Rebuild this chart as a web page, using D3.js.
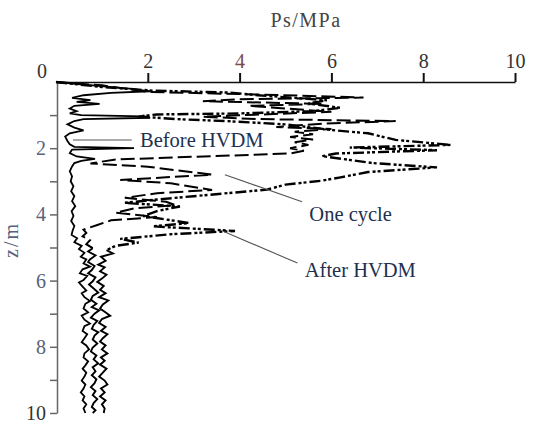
<!DOCTYPE html>
<html>
<head>
<meta charset="utf-8">
<script src="https://cdn.jsdelivr.net/npm/d3@7"></script>
<style>
  html, body { margin: 0; padding: 0; background: #fff; }
  svg { display: block; }
</style>
</head>
<body>
<svg id="chart" width="556" height="430"></svg>
<script>
// Cone penetration profiles: [depth z (m), Ps (MPa)]
const beforeProfile = [
  [0.00,0.00],[0.08,0.60],[0.20,1.60],[0.28,2.05],[0.33,1.20],[0.40,0.60],[0.48,0.35],
  [0.55,0.75],[0.60,0.45],[0.66,0.95],[0.72,0.40],[0.80,0.30],[0.88,0.45],[0.95,0.30],
  [1.00,0.55],[1.04,1.90],[1.08,2.05],[1.12,0.60],[1.18,0.40],[1.28,0.25],[1.38,0.40],
  [1.46,0.60],[1.55,0.30],[1.65,0.20],[1.78,0.25],[1.88,0.30],[1.96,0.40],[2.00,1.70],
  [2.04,0.35],[2.15,0.30],[2.25,0.45],[2.32,0.85],[2.38,0.55],[2.45,0.40],[2.55,0.35],
  [2.70,0.30],[2.85,0.35],[3.00,0.32],[3.15,0.38],[3.30,0.33],[3.45,0.40],[3.60,0.35],
  [3.75,0.42],[3.90,0.34],[4.05,0.38],[4.20,0.33],[4.35,0.40],[4.50,0.36],[4.62,0.34],
  [4.72,0.46],[4.84,0.40],[4.95,0.56],[5.05,0.50],[5.16,0.62],[5.28,0.54],[5.36,0.66],
  [5.48,0.60],[5.58,0.74],[5.66,0.58],[5.78,0.52],[5.86,0.68],[5.98,0.60],[6.06,0.50],
  [6.18,0.58],[6.30,0.66],[6.38,0.56],[6.50,0.62],[6.62,0.74],[6.70,0.64],[6.84,0.60],
  [6.96,0.70],[7.06,0.56],[7.18,0.62],[7.30,0.74],[7.38,0.62],[7.52,0.58],[7.62,0.68],
  [7.74,0.62],[7.86,0.56],[7.96,0.66],[8.08,0.72],[8.20,0.62],[8.32,0.60],[8.44,0.70],
  [8.56,0.64],[8.66,0.58],[8.78,0.66],[8.90,0.62],[9.02,0.56],[9.14,0.64],[9.26,0.60],
  [9.38,0.54],[9.50,0.62],[9.62,0.58],[9.74,0.66],[9.86,0.60],[10.00,0.64]
];

const oneCycleProfile = [
  [0.00,0.00],[0.10,1.00],[0.30,2.00],[0.38,4.50],[0.47,6.70],[0.52,4.00],[0.58,3.20],
  [0.66,5.80],[0.72,4.20],[0.80,5.00],[0.90,6.00],[0.98,4.50],[1.05,3.20],[1.12,4.40],
  [1.18,7.40],[1.26,5.80],[1.36,4.80],[1.42,6.00],[1.50,5.20],[1.58,5.60],[1.66,5.10],
  [1.74,5.60],[1.82,5.20],[1.90,5.50],[2.00,5.10],[2.08,5.40],[2.16,5.10],[2.34,1.30],
  [2.46,0.75],[2.56,2.00],[2.80,3.40],[2.88,2.40],[2.96,1.40],[3.06,2.50],[3.26,3.40],
  [3.36,2.20],[3.50,1.50],[3.62,2.40],[3.72,2.60],[3.82,1.70],[3.95,1.30],[4.08,2.20],
  [4.18,1.20],[4.32,0.90],[4.46,0.60],[4.56,0.66],[4.66,0.58],[4.78,0.74],[4.90,0.66],
  [5.02,0.80],[5.12,0.70],[5.24,0.86],[5.36,0.74],[5.44,0.70],[5.56,0.84],[5.68,0.78],
  [5.78,0.70],[5.90,0.86],[6.02,0.80],[6.12,0.72],[6.24,0.82],[6.36,0.92],[6.46,0.80],
  [6.58,0.76],[6.70,0.88],[6.80,0.78],[6.90,0.94],[7.00,0.84],[7.12,0.76],[7.22,0.90],
  [7.34,0.82],[7.46,0.78],[7.56,0.92],[7.66,0.84],[7.78,0.80],[7.90,0.90],[8.02,0.80],
  [8.14,0.76],[8.26,0.88],[8.38,0.82],[8.50,0.92],[8.62,0.80],[8.74,0.86],[8.86,0.78],
  [8.98,0.88],[9.10,0.84],[9.22,0.76],[9.34,0.86],[9.46,0.80],[9.58,0.90],[9.70,0.82],
  [9.82,0.78],[9.92,0.86],[10.00,0.80]
];

const afterProfile = [
  [0.00,0.00],[0.15,1.00],[0.26,2.10],[0.32,3.80],[0.40,4.40],[0.55,5.90],[0.65,5.50],
  [0.78,6.20],[0.88,5.60],[0.95,4.00],[0.98,2.20],[1.04,1.80],[1.12,2.60],[1.18,3.70],
  [1.28,5.00],[1.45,6.00],[1.55,6.80],[1.75,7.40],[1.90,8.60],[1.98,6.40],[2.06,8.30],
  [2.16,6.10],[2.24,5.80],[2.45,6.90],[2.58,8.30],[2.72,6.80],[2.88,6.20],[2.98,5.80],
  [3.10,5.00],[3.25,4.60],[3.45,3.00],[3.55,2.20],[3.65,1.50],[3.76,2.70],[3.90,2.20],
  [4.05,1.90],[4.26,2.90],[4.36,2.10],[4.50,3.90],[4.60,2.50],[4.74,1.40],[4.85,1.80],
  [4.95,1.30],[5.08,1.10],[5.18,1.24],[5.28,0.98],[5.40,1.08],[5.52,0.92],[5.60,1.06],
  [5.72,0.96],[5.82,1.10],[5.94,1.00],[6.04,0.90],[6.16,1.04],[6.28,0.96],[6.38,1.08],
  [6.50,0.94],[6.60,1.14],[6.72,1.02],[6.84,0.96],[6.94,1.06],[7.06,1.18],[7.16,1.00],
  [7.28,0.94],[7.40,1.08],[7.52,0.98],[7.62,1.12],[7.74,1.02],[7.84,0.96],[7.96,1.08],
  [8.08,1.00],[8.20,1.12],[8.32,0.98],[8.42,1.06],[8.54,0.96],[8.66,1.10],[8.78,1.02],
  [8.90,0.94],[9.02,1.06],[9.14,1.12],[9.26,0.98],[9.38,1.06],[9.50,0.96],[9.62,1.08],
  [9.74,1.00],[9.86,1.06],[10.00,1.04]
];

const xTickValues = [2, 4, 6, 8, 10];
const yTickValues = [1, 2, 3, 4, 5, 6, 7, 8, 9, 10];
const yLabelValues = [2, 4, 6, 8, 10];
// below this depth the dense profile records are drawn as continuous strokes
const solidBelow = 5.0;

const svg = d3.select("#chart");
const serif = "'Liberation Serif', 'DejaVu Serif', serif";

const x = d3.scaleLinear().domain([0, 10]).range([56, 515]);
const y = d3.scaleLinear().domain([0, 10]).range([82, 413]);

// top axis (Ps)
const xAxis = svg.append("g")
  .attr("transform", `translate(0,${y(0)})`)
  .call(d3.axisTop(x).tickValues(xTickValues).tickSize(9).tickSizeOuter(0).tickPadding(5));
xAxis.select(".domain").attr("stroke", "#111").attr("stroke-width", 1.6);
xAxis.selectAll(".tick line").attr("stroke", "#111").attr("stroke-width", 2);
xAxis.selectAll(".tick text")
  .attr("font-family", serif).attr("font-size", 20)
  .attr("fill", d => d === 4 ? "#7d4a4a" : "#333");

// left axis (depth)
const yAxis = svg.append("g")
  .attr("transform", `translate(${x(0) + 1},0)`)
  .call(d3.axisLeft(y).tickValues(yTickValues).tickSize(7).tickSizeOuter(0).tickPadding(4)
    .tickFormat(d => yLabelValues.includes(d) ? d3.format("d")(d) : ""));
yAxis.select(".domain").attr("stroke", "#666").attr("stroke-width", 1.5);
yAxis.selectAll(".tick line").attr("stroke", "#666").attr("stroke-width", 1.5);
yAxis.selectAll(".tick text")
  .attr("font-family", serif).attr("font-size", 20)
  .attr("fill", d => d === 10 ? "#333" : "#58627a");

// shared origin label
svg.append("text")
  .attr("x", 42).attr("y", 78)
  .attr("text-anchor", "middle")
  .attr("font-family", serif).attr("font-size", 20).attr("fill", "#333")
  .text("0");

// axis titles
svg.append("text")
  .attr("x", 306).attr("y", 27)
  .attr("text-anchor", "middle")
  .attr("font-family", serif).attr("font-size", 20).attr("letter-spacing", 1.5).attr("fill", "#444")
  .text("Ps/MPa");

svg.append("text")
  .attr("transform", "translate(18,240) rotate(-90)")
  .attr("text-anchor", "middle")
  .attr("font-family", serif).attr("font-size", 20).attr("letter-spacing", 2).attr("fill", "#58627a")
  .text("z/m");

// profiles
const line = d3.line().x(d => x(d[1])).y(d => y(d[0]));
const plot = svg.append("g").attr("fill", "none").attr("stroke", "#000")
  .attr("stroke-linejoin", "miter").attr("stroke-miterlimit", 4);

plot.append("path").datum(beforeProfile)
  .attr("d", line).attr("stroke-width", 1.8);

function drawProfile(data, width, dash) {
  const k = data.findIndex(d => d[0] >= solidBelow);
  plot.append("path").datum(data.slice(0, k + 1))
    .attr("d", line).attr("stroke-width", width).attr("stroke-dasharray", dash);
  plot.append("path").datum(data.slice(k))
    .attr("d", line).attr("stroke-width", 1.9);
}
drawProfile(oneCycleProfile, 2, "14,5");
drawProfile(afterProfile, 2.4, "11,3,3,2,3,3");

// annotations: pointer start (Ps, z), pointer end (Ps, z), label anchor (Ps, z)
const notes = [
  { text: "Before HVDM", p0: [0.37, 1.75], p1: [1.65, 1.75], at: [1.83, 1.95] },
  { text: "One cycle",   p0: [3.68, 2.80], p1: [5.36, 3.62], at: [5.52, 4.20] },
  { text: "After HVDM",  p0: [3.68, 4.53], p1: [5.26, 5.47], at: [5.42, 5.88] }
];
notes.forEach(n => {
  svg.append("line")
    .attr("x1", x(n.p0[0])).attr("y1", y(n.p0[1]))
    .attr("x2", x(n.p1[0])).attr("y2", y(n.p1[1]))
    .attr("stroke", "#555").attr("stroke-width", 1.1);
  svg.append("text")
    .attr("x", x(n.at[0])).attr("y", y(n.at[1]))
    .attr("font-family", serif).attr("font-size", 20.5).attr("fill", "#22304f")
    .text(n.text);
});
</script>
</body>
</html>
